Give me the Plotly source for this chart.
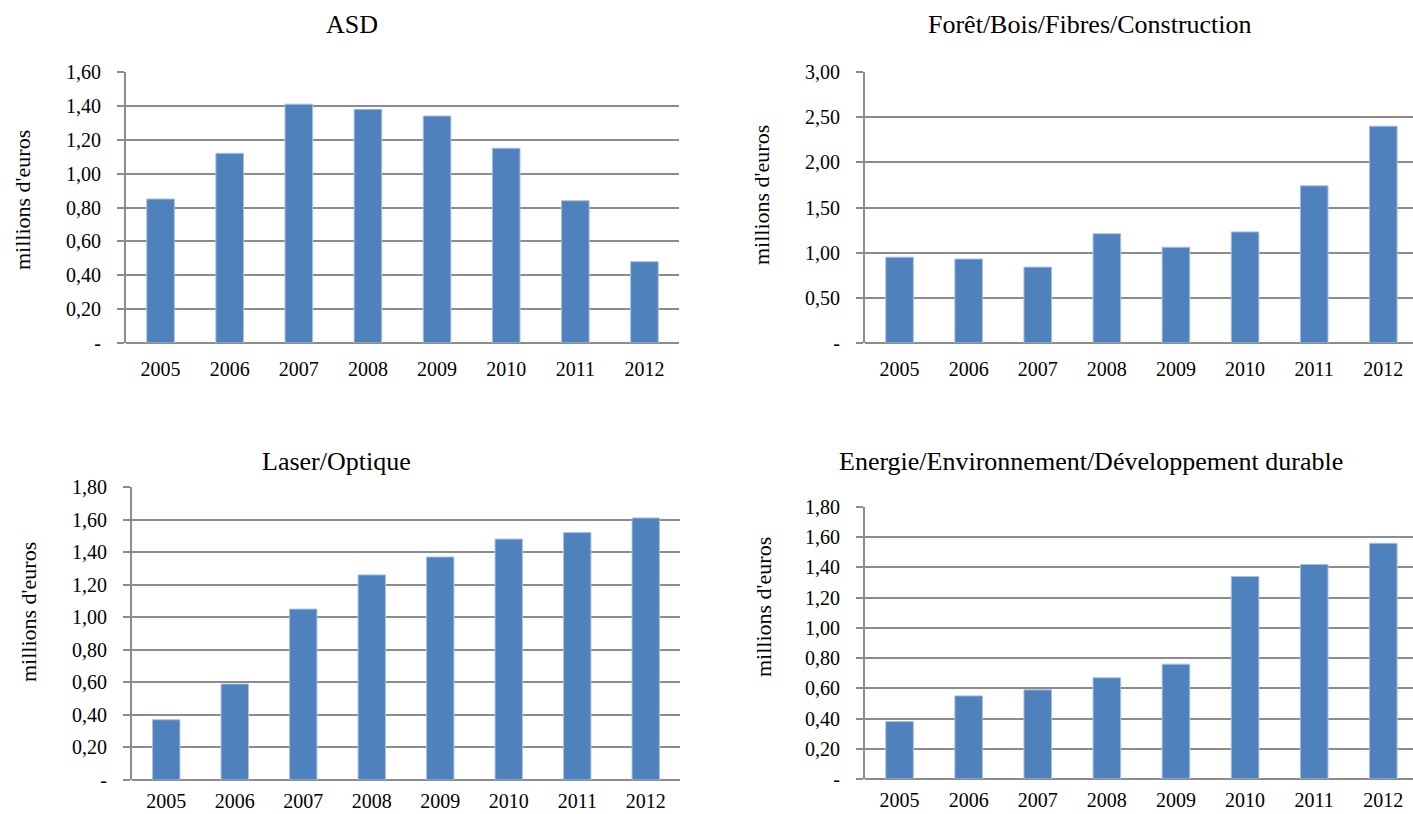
import plotly.graph_objects as go

years = ["2005", "2006", "2007", "2008", "2009", "2010", "2011", "2012"]

asd = [0.85, 1.12, 1.41, 1.38, 1.34, 1.15, 0.84, 0.48]
foret = [0.95, 0.93, 0.84, 1.21, 1.06, 1.23, 1.74, 2.40]
laser = [0.37, 0.59, 1.05, 1.26, 1.37, 1.48, 1.52, 1.61]
energie = [0.38, 0.55, 0.59, 0.67, 0.76, 1.34, 1.42, 1.56]

titles = ["ASD", "Forêt/Bois/Fibres/Construction", "Laser/Optique",
          "Energie/Environnement/Développement durable"]
ytitle = "millions d'euros"

ticks_asd = [0, 0.2, 0.4, 0.6, 0.8, 1.0, 1.2, 1.4, 1.6]
ticks_foret = [0, 0.5, 1.0, 1.5, 2.0, 2.5, 3.0]
ticks_18 = [0, 0.2, 0.4, 0.6, 0.8, 1.0, 1.2, 1.4, 1.6, 1.8]


def fmt(vals):
    return ["-" if v == 0 else f"{v:.2f}".replace(".", ",") for v in vals]


W, H = 1413, 814
FONT = "Liberation Serif"
GRID = "#8c8c8c"
BAR = "#4F81BD"

panels = [
    # data, ticks, (x0,x1) px, (ybottom, ytop) px, x range max, x label standoff
    (asd, ticks_asd, (126, 679), (343, 72), 7.5, 12),
    (foret, ticks_foret, (865, 1413), (343, 72), 7.43, 12),
    (laser, ticks_18, (132, 680), (780, 487), 7.5, 7),
    (energie, ticks_18, (865, 1413), (779, 507), 7.43, 7),
]

fig = go.Figure()
layout = dict(
    width=W, height=H,
    margin=dict(l=0, r=0, t=0, b=0, autoexpand=False),
    paper_bgcolor="white", plot_bgcolor="white",
    showlegend=False, bargap=0.6,
    font=dict(family=FONT, color="black"),
)

for i, (vals, tv, (x0, x1), (yb, yt), xmax, sto) in enumerate(panels):
    n = "" if i == 0 else str(i + 1)
    fig.add_trace(go.Bar(x=years, y=vals, marker_color=BAR,
                         marker_line=dict(width=1, color="#a9c0df"),
                         xaxis="x" + n, yaxis="y" + n))
    layout["xaxis" + n] = dict(
        domain=[x0 / W, x1 / W], anchor="y" + n, type="category",
        range=[-0.5, xmax], showgrid=False, showline=False, zeroline=False,
        automargin=False,
        ticks="", tickfont=dict(size=20, family=FONT), ticklabelstandoff=sto,
    )
    layout["yaxis" + n] = dict(
        domain=[(H - yb) / H, (H - yt) / H], anchor="x" + n,
        range=[0, max(tv)], tickvals=tv, ticktext=fmt(tv),
        automargin=False,
        showgrid=True, gridcolor=GRID, gridwidth=2,
        zeroline=True, zerolinecolor=GRID, zerolinewidth=2,
        showline=True, linecolor=GRID, linewidth=2,
        ticks="outside", ticklen=7, tickwidth=2, tickcolor=GRID,
        tickfont=dict(size=20, family=FONT), ticklabelstandoff=12,
    )

annots = []
title_pos = [(352, 25), (1090, 25), (336, 461), (1091, 461)]
for t, (x, y) in zip(titles, title_pos):
    annots.append(dict(text=t, x=x / W, y=1 - y / H, xref="paper", yref="paper",
                       xanchor="center", yanchor="middle", showarrow=False,
                       font=dict(size=26, family=FONT, color="black")))
ytitle_pos = [(22, 200), (762, 195), (28, 612), (763, 607)]
for (x, y) in ytitle_pos:
    annots.append(dict(text=ytitle, x=x / W, y=1 - y / H, xref="paper", yref="paper",
                       xanchor="center", yanchor="middle", showarrow=False,
                       textangle=-90,
                       font=dict(size=22, family=FONT, color="black")))
layout["annotations"] = annots

fig.update_layout(**layout)
fig.write_html(
    "out.html",
    config={"displayModeBar": False},
    post_script="document.body.style.margin='0px';document.body.style.overflow='hidden';",
)
